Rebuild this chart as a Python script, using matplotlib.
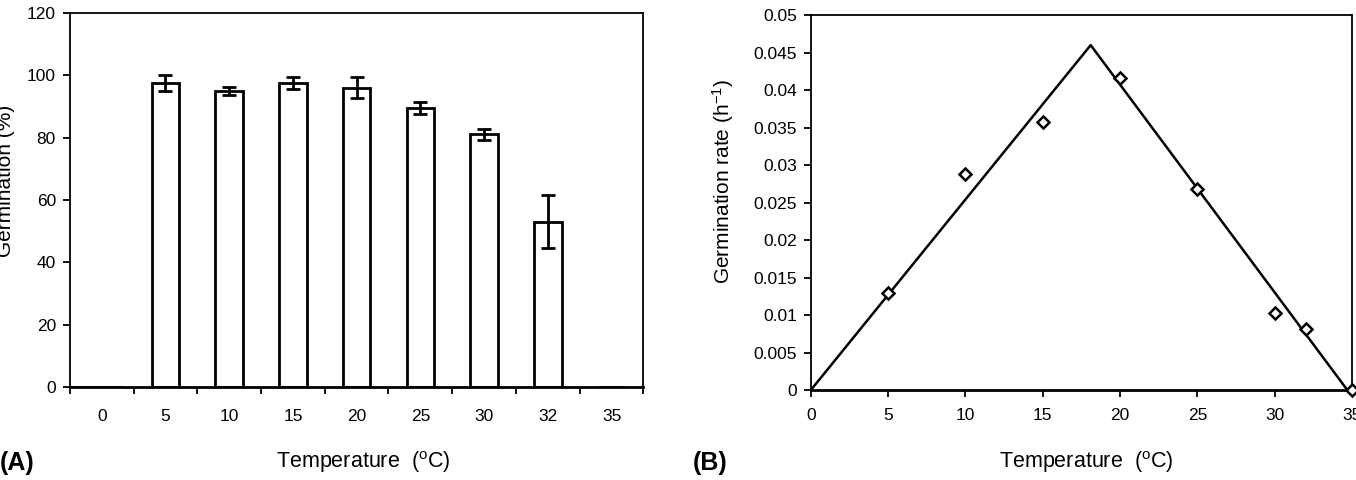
import numpy as np
import matplotlib
matplotlib.use("Agg")
import matplotlib.pyplot as plt

plt.rcParams['font.family'] = ['Liberation Sans', 'DejaVu Sans']
plt.rcParams['mathtext.default'] = 'regular'

# --- dane: (A) kiełkowanie ---
temp_labels = ["0", "5", "10", "15", "20", "25", "30", "32", "35"]
germ_pct = [0, 97.5, 95.0, 97.5, 96.0, 89.5, 81.0, 53.0, 0]
germ_err = [0, 2.5, 1.3, 1.8, 3.3, 1.8, 1.7, 8.5, 0]

# --- dane: (B) szybkość kiełkowania ---
rate_temp = [5, 10, 15, 20, 25, 30, 32, 35]
rate_obs = [0.0130, 0.0288, 0.0358, 0.0416, 0.0268, 0.0103, 0.0082, 0.0]
fit_temp = [0, 18.1, 34.7]
fit_rate = [0.0, 0.046, 0.0]

fig = plt.figure(figsize=(13.56, 4.8), dpi=100)
ax1 = fig.add_axes([0.0515, 0.194, 0.423, 0.779])
ax2 = fig.add_axes([0.598, 0.1875, 0.399, 0.781])

TICK_FS = 12.5
LAB_FS = 15.5
xlab = r'Temperature  ($^{o}$C)'

# --- panel A ---
x = np.arange(len(temp_labels))
ax1.bar(x, germ_pct, width=0.43, color="white", edgecolor="black", linewidth=2)
mask = np.array(germ_err) > 0
ax1.errorbar(x[mask], np.array(germ_pct)[mask], yerr=np.array(germ_err)[mask], fmt="none",
             ecolor="black", elinewidth=2, capsize=4.7, capthick=2)
ax1.plot([-0.5, 0.3], [0, 0], color="black", lw=2)
ax1.set_xlim(-0.5, len(temp_labels) - 0.5)
ax1.set_ylim(0, 120)
ax1.set_yticks(range(0, 121, 20))
ax1.set_xticks(x)
ax1.set_xticklabels(temp_labels)
ax1.set_xticks(np.arange(-0.5, len(temp_labels)), minor=True)
ax1.tick_params(axis="x", which="major", length=0, pad=16, labelsize=TICK_FS)
ax1.tick_params(axis="x", which="minor", length=5, width=1.3, direction="out")
ax1.tick_params(axis="y", length=5, width=1.3, direction="out", labelsize=TICK_FS, pad=5)
ax1.set_ylabel("Germination (%)", fontsize=15)
ax1.yaxis.set_label_coords(-0.095, 0.55)
for s in ax1.spines.values():
    s.set_linewidth(1.3)
ax1.spines["bottom"].set_linewidth(2)

# --- panel B ---
ax2.plot(fit_temp, fit_rate, color="black", lw=1.8, clip_on=False)
ax2.plot(rate_temp, rate_obs, linestyle="none", marker="D", ms=6.5, mfc="white",
         mec="black", mew=1.8, clip_on=False, zorder=5)
ax2.set_xlim(0, 35)
ax2.set_ylim(0, 0.05)
ax2.set_xticks(range(0, 36, 5))
ax2.set_yticks(np.arange(0, 0.0501, 0.005))
ax2.set_yticklabels(["0", "0.005", "0.01", "0.015", "0.02", "0.025", "0.03",
                     "0.035", "0.04", "0.045", "0.05"])
ax2.tick_params(axis="both", length=5, width=1.3, direction="out", labelsize=TICK_FS)
ax2.tick_params(axis="x", pad=8)
ax2.tick_params(axis="y", pad=5)
ax2.set_ylabel("Germination rate (h$^{-1}$)", fontsize=15)
ax2.yaxis.set_label_coords(-0.138, 0.555)
for s in ax2.spines.values():
    s.set_linewidth(1.3)
ax2.spines["bottom"].set_linewidth(2)

# --- podpisy ---
fig.text(0.268, 0.038, xlab, ha="center", va="center", fontsize=LAB_FS)
fig.text(0.801, 0.038, xlab, ha="center", va="center", fontsize=LAB_FS)
fig.text(0.0, 0.036, "(A)", ha="left", va="center", fontsize=18, fontweight="bold")
fig.text(0.511, 0.036, "(B)", ha="left", va="center", fontsize=18, fontweight="bold")

fig.savefig("out.png", dpi=100)
